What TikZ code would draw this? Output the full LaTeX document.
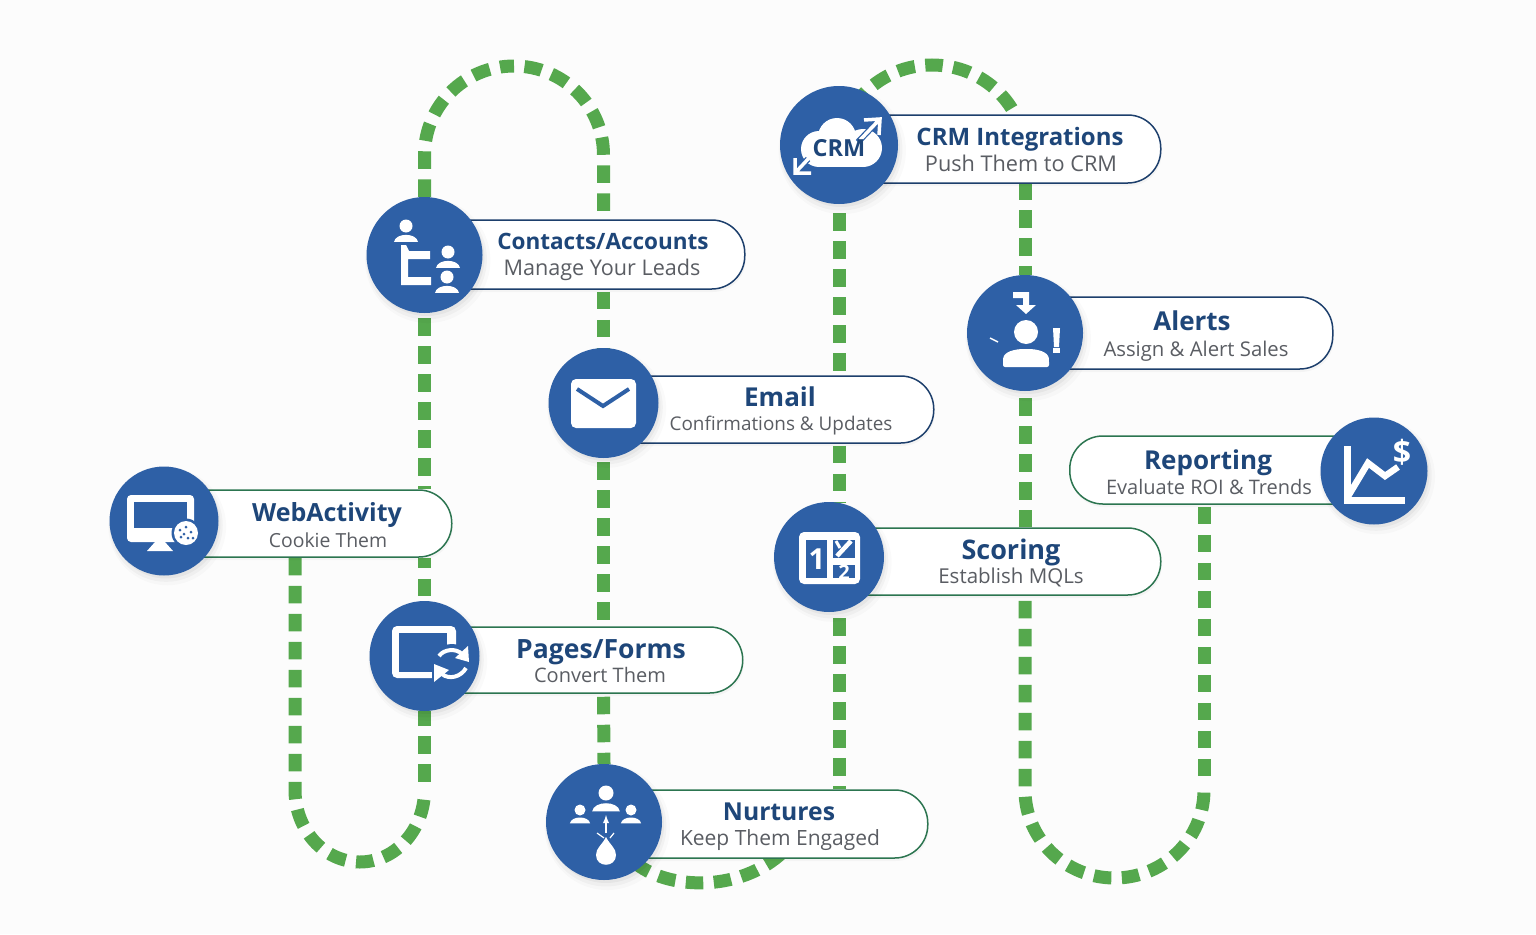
\documentclass[tikz,border=0pt]{standalone}
\usepackage{fontspec}
\setmainfont{Open Sans}
\usetikzlibrary{positioning,shadows,backgrounds,arrows}
\definecolor{circblue}{HTML}{2E60A6}
\definecolor{titleblue}{HTML}{1E4679}
\definecolor{subgrey}{HTML}{5A5D63}
\definecolor{trailgreen}{HTML}{55A84D}
\definecolor{navyline}{HTML}{1D3F6C}
\definecolor{greenline}{HTML}{2C7550}
\tikzset{
	trail/.style={line width=13pt,draw=trailgreen,dash pattern=on 17.5pt off 10.5pt},
	softshadow/.style={
		drop shadow={shadow xshift=2pt,shadow yshift=-3pt,shadow scale=1.0,opacity=.04,fill=black},
		drop shadow={shadow xshift=2pt,shadow yshift=-4pt,shadow scale=1.04,opacity=.03,fill=black},
		drop shadow={shadow xshift=3pt,shadow yshift=-5pt,shadow scale=1.08,opacity=.02,fill=black}},
	pillbox/.style={draw=#1,line width=1.5pt,fill=white,rounded corners=33pt,
		drop shadow={shadow xshift=1pt,shadow yshift=-3pt,opacity=.03,fill=black}},
	iconcirc/.style={circle,fill=circblue,inner sep=0pt,minimum size=#1,softshadow},
	titletext/.style={text=titleblue,font=\fontsize{#1}{28}\selectfont\bfseries,inner sep=0pt,text height=18pt,text depth=0pt},
	subtext/.style={text=subgrey,font=\fontsize{#1}{24}\selectfont,inner sep=0pt,text height=15pt,text depth=0pt}
}
% head and shoulders, white
\newcommand{\persn}[3]{
	\fill[white] (#1,#2) circle (#3pt);
	\fill[white] (#1-1.85*#3,#2+2.45*#3) .. controls (#1-1.6*#3,#2+1.0*#3) and (#1+1.6*#3,#2+1.0*#3) .. (#1+1.85*#3,#2+2.45*#3) -- cycle;
}
\begin{document}
\begin{tikzpicture}[x=1pt,y=-1pt]
\useasboundingbox (0,0) rectangle (1536,934);

% pills
\node[pillbox=greenline,minimum width=287pt,minimum height=67pt,anchor=west] (webpill) at (164,523.5) {};
\node[pillbox=navyline,minimum width=319pt,minimum height=69pt,anchor=west] (contactspill) at (425,254.5) {};
\node[pillbox=greenline,minimum width=317pt,minimum height=66pt,anchor=west] (pagespill) at (425,660) {};
\node[pillbox=navyline,minimum width=330pt,minimum height=67pt,anchor=west] (emailpill) at (603,409.5) {};
\node[pillbox=greenline,minimum width=323pt,minimum height=68pt,anchor=west] (nurturespill) at (604,824) {};
\node[pillbox=greenline,minimum width=331pt,minimum height=67pt,anchor=west] (scoringpill) at (829,561.5) {};
\node[pillbox=navyline,minimum width=321pt,minimum height=68pt,anchor=west] (crmpill) at (839,149) {};
\node[pillbox=navyline,minimum width=307pt,minimum height=72pt,anchor=west] (alertspill) at (1025,333) {};
\node[pillbox=greenline,minimum width=305pt,minimum height=68pt,anchor=west] (reportingpill) at (1069,470) {};

% circles
\node[iconcirc=109pt] (web) at (164,521) {};
\node[iconcirc=116pt] (contacts) at (424.5,255) {};
\node[iconcirc=110pt] (pages) at (424.5,656) {};
\node[iconcirc=110pt] (email) at (603.5,403) {};
\node[iconcirc=116pt] (nurtures) at (604,822) {};
\node[iconcirc=110pt] (scoring) at (829,557) {};
\node[iconcirc=118pt] (crm) at (839,145) {};
\node[iconcirc=116pt] (alerts) at (1025,333) {};
\node[iconcirc=107pt] (reporting) at (1374,471) {};

% loop turning points
\coordinate (wdrop) at (295,790);
\coordinate (wrise) at (424.5,786);
\coordinate (ctop) at (424.5,155);
\coordinate (ntop) at (630,858);
\coordinate (ctrltop) at (839,155);
\coordinate (rdrop) at (1025,790);
\coordinate (rrise) at (1204,785);

\begin{pgfonlayer}{background}
\fill[white!99!black] (0,0) rectangle (1536,934);
\draw[trail] (webpill.south -| wdrop) -- (wdrop) arc (180:0:64.75 and 72);
\draw[trail,dash phase=3pt] (pages.south) -- (wrise);
\draw[trail,shorten <=5pt] (contacts.south) -- (webpill.north -| contacts.south);
\draw[trail,dash phase=7pt] (webpill.south -| contacts.south) -- (pages.north);
\draw[trail] (contacts.north) -- (ctop) arc (180:270:89.5 and 89);
\draw[trail,dash phase=17.5pt] (514,66) arc (270:360:89.5 and 89) -- (contactspill.north -| email.north);
\draw[trail,shorten <=2pt] (contactspill.south -| email.north) -- (email.north);
\draw[trail,shorten <=4pt] (email.south) -- (pagespill.north -| email.south);
\draw[trail,shorten <=3pt] (pagespill.south -| email.south) -- (nurtures.north);
\draw[trail,dash phase=22pt] (ntop) .. controls (660,890) and (740,895) .. (785,850);
\draw[trail,shorten <=6pt] (scoring.south -| crm.south) -- (nurturespill.north -| crm.south);
\draw[trail,shorten <=2pt] (emailpill.south -| crm.south) -- (scoring.north -| crm.south);
\draw[trail,shorten <=9pt] (crm.south) -- (emailpill.north -| crm.south);
\draw[trail,dash phase=3pt] (ctrltop) arc (180:360:93 and 90);
\draw[trail,dash phase=1.5pt] (crmpill.south -| alerts.north) -- (alerts.north);
\draw[trail,shorten <=7pt] (alerts.south) -- (scoringpill.north -| alerts.south);
\draw[trail,shorten <=5pt] (scoringpill.south -| alerts.south) -- (rdrop) arc (180:0:89.5 and 88);
\draw[trail,shorten <=2pt] (reportingpill.south -| rrise) -- (rrise);
\end{pgfonlayer}

% texts
\node[titletext=25] (webtitle) at (327,512) {WebActivity};
\node[subtext=19.4] (websub) at (328,540) {Cookie Them};
\node[titletext=22.5] (contactstitle) at (603,240) {Contacts/Accounts};
\node[subtext=21.6] (contactssub) at (602,268) {Manage Your Leads};
\node[titletext=26.5] (pagestitle) at (601,649) {Pages/Forms};
\node[subtext=20] (pagessub) at (600,675) {Convert Them};
\node[titletext=26] (emailtitle) at (780,397) {Email};
\node[subtext=18.9] (emailsub) at (781,423) {Confirmations \& Updates};
\node[titletext=24.7] (nurturestitle) at (779,811) {Nurtures};
\node[subtext=21] (nurturessub) at (780,838) {Keep Them Engaged};
\node[titletext=27] (scoringtitle) at (1011,550) {Scoring};
\node[subtext=20.5] (scoringsub) at (1011,576) {Establish MQLs};
\node[titletext=24] (crmtitle) at (1020,136) {CRM Integrations};
\node[subtext=21.7] (crmsub) at (1021,164) {Push Them to CRM};
\node[titletext=26] (alertstitle) at (1192,321) {Alerts};
\node[subtext=20.3] (alertssub) at (1196,349) {Assign \& Alert Sales};
\node[titletext=26] (reportingtitle) at (1208,460) {Reporting};
\node[subtext=20] (reportingsub) at (1209,487) {Evaluate ROI \& Trends};

% web icon
\fill[white,rounded corners=4pt] (127,495) rectangle (194,542);
\fill[circblue] (134,502) rectangle (187,528);
\fill[white] (155,542) -- (165,542) -- (173,551) -- (147,551) -- cycle;
\fill[circblue] (186,533) circle (14.5pt);
\fill[white] (186,533) circle (12pt);
\foreach \dx/\dy in {-6/-3,0/-6,5/-1,-2/1,2/5,-5/4,7/5}
	\fill[circblue] (186+\dx,533+\dy) circle (1.5pt);

% contacts icon
\persn{406}{226}{6.5}
\persn{448}{252}{6.5}
\persn{447}{277}{6.5}
\fill[white] (401,245) -- (406,245) -- (409,251) -- (430,251) -- (430,259) -- (408,259) -- (408,277) -- (431,277) -- (431,285) -- (401,285) -- cycle;

% pages icon
\fill[white,rounded corners=5pt] (392,626) rectangle (456,678);
\fill[circblue] (399,633) rectangle (447,672);
\fill[circblue] (452,664) circle (20pt);
\fill[circblue] (432,672) rectangle (460,680);
\draw[white,line width=4pt] (439,656) .. controls (444,649) and (456,648) .. (462,654);
\draw[white,line width=4pt] (466,668) .. controls (461,677) and (449,680) .. (442,674);
\fill[white] (468,646) -- (469,662) -- (455,658) -- cycle;
\fill[white] (434,682) -- (434,664) -- (449,670) -- cycle;

% email icon
\fill[white,rounded corners=5pt] (571,379) rectangle (636,428);
\draw[circblue,line width=4pt] (577,389) -- (603,406) -- (629,389);

% nurtures icon
\persn{606}{793}{7.5}
\persn{580}{810}{5.5}
\persn{631}{810}{5.5}
\fill[white] (606,837) .. controls (602,845) and (596,848) .. (596,855) .. controls (596,868) and (616,868) .. (616,855) .. controls (616,848) and (610,845) .. (606,837) -- cycle;
\draw[white,line width=1.8pt,-latex] (606,833) -- (606,815);
\draw[white,line width=1.2pt] (597,833) -- (604,838) (610,838) -- (614,833);

% scoring icon
\fill[white,rounded corners=5pt] (799,532) rectangle (860,584);
\fill[circblue] (806,540) rectangle (827,578);
\fill[circblue] (833,540) rectangle (855,578);
\fill[white] (833,558) rectangle (855,565);
\node[white,font=\fontsize{29}{29}\selectfont\bfseries,inner sep=0pt] (scoreone) at (817,559) {1};
\draw[white,line width=4.5pt] (851,541) -- (837,556);
\draw[white,line width=3pt] (836,541) -- (840,548);
\node[white,font=\fontsize{20}{20}\selectfont\bfseries,inner sep=0pt] (scoretwo) at (844,572) {2};

% crm icon
\fill[white] (819,149) circle (18pt);
\fill[white] (837,137) circle (19pt);
\fill[white] (863,148) circle (19pt);
\fill[white] (819,150) rectangle (865,167);
\draw[circblue,line width=6pt] (858,142) -- (879,120);
\draw[circblue,line width=6pt] (808,159) -- (797,171);
\draw[white,line width=3.5pt] (860,140) -- (879,120) (864,120) -- (880,119) -- (879,135);
\draw[white,line width=3.5pt] (809,158) -- (796,172) (795,158) -- (795,173) -- (811,173);
\node[text=titleblue,font=\fontsize{23.5}{24}\selectfont\bfseries,inner sep=0pt] (crmlogo) at (839,148) {CRM};

% alerts icon
\fill[white] (1026,332) circle (12pt);
\fill[white,rounded corners=2pt] (1003,367) -- (1003,360) .. controls (1004,352) and (1014,349) .. (1026,349) .. controls (1038,349) and (1048,352) .. (1049,360) -- (1049,367) -- cycle;
\fill[white] (1013,292) -- (1029,292) -- (1029,305) -- (1036,305) -- (1026,314) -- (1016,305) -- (1023,305) -- (1023,298) -- (1013,298) -- cycle;
\fill[white] (1053,328) -- (1060,328) -- (1059,347) -- (1054,347) -- cycle;
\fill[white] (1053,348) rectangle (1060,353);
\draw[white,line width=1.5pt] (990,338) -- (998,342);

% reporting icon
\draw[white,line width=7pt] (1347,446) -- (1347,500) -- (1405,500);
\draw[white,line width=6.5pt] (1347,498) -- (1368,463) -- (1385,476) -- (1398,467);
\node[white,font=\fontsize{32}{32}\selectfont\bfseries,inner sep=0pt] (dollar) at (1402,452) {\$};
\end{tikzpicture}
\end{document}
